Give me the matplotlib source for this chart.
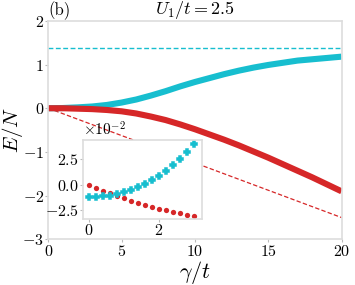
import matplotlib
matplotlib.use('Agg')
import matplotlib.pyplot as plt
from matplotlib.ticker import ScalarFormatter

plt.rcParams['font.family'] = 'serif'
plt.rcParams['font.serif'] = ['cmr10', 'DejaVu Serif']
plt.rcParams['mathtext.fontset'] = 'cm'
plt.rcParams['axes.formatter.use_mathtext'] = True

# main panel data
gamma = [0, 1, 2, 3, 4, 5, 6, 7, 8, 9, 10, 11, 12, 13, 14, 15, 16, 17, 18, 19, 20]
e_cyan = [0.0, 0.005, 0.02, 0.04, 0.075, 0.13, 0.2, 0.29, 0.39, 0.5, 0.6,
          0.69, 0.78, 0.86, 0.93, 0.99, 1.04, 1.09, 1.12, 1.15, 1.18]
e_red = [0.0, 0.0, -0.01, -0.02, -0.04, -0.07, -0.12, -0.19, -0.27, -0.37, -0.48,
         -0.6, -0.72, -0.85, -0.99, -1.13, -1.28, -1.43, -1.58, -1.74, -1.9]
dash_x = [0, 20]
dash_red = [0, -2.5]
dash_cyan = [1.375, 1.375]

# inset data (units of 1e-2)
ins_x = [0.0, 0.2, 0.4, 0.6, 0.8, 1.0, 1.2, 1.4, 1.6, 1.8, 2.0, 2.2, 2.4, 2.6, 2.8, 3.0]
ins_red = [0.0, -0.29, -0.59, -0.82, -1.05, -1.31, -1.54, -1.76, -1.96, -2.16,
           -2.35, -2.52, -2.68, -2.81, -2.97, -3.1]
ins_cyan = [-1.21, -1.21, -1.14, -1.05, -0.88, -0.72, -0.49, -0.23, 0.1, 0.46,
            0.92, 1.37, 1.93, 2.52, 3.24, 3.99]

cyan = '#17becf'
red = '#d62728'
spine_c = '#dddddd'

fig = plt.figure(figsize=(3.55, 2.85), dpi=100)
ax = fig.add_axes([0.136, 0.160, 0.826, 0.767])

ax.plot(dash_x, dash_cyan, '--', color=cyan, lw=1.0, dashes=(3.5, 1.8))
ax.plot(dash_x, dash_red, '--', color=red, lw=0.9, dashes=(3.5, 1.8))
ax.plot(gamma, e_cyan, '-', color=cyan, lw=4.4, solid_capstyle='butt', solid_joinstyle='round')
ax.plot(gamma, e_red, '-', color=red, lw=4.4, solid_capstyle='butt', solid_joinstyle='round')

ax.set_xlim(0, 20)
ax.set_ylim(-3, 2)
ax.set_xticks([0, 5, 10, 15, 20])
ax.set_yticks([-3, -2, -1, 0, 1, 2])
ax.set_xlabel(r'$\gamma/t$', fontsize=16, labelpad=0)
ax.set_ylabel(r'$E/N$', fontsize=15)
ax.yaxis.set_label_coords(-0.078, 0.5)
ax.set_title(r'$U_1/t = 2.5$', fontsize=13, pad=2)
ax.text(0.0, 1.005, '(b)', transform=ax.transAxes, fontsize=12, va='bottom', ha='left')
for s in ax.spines.values():
    s.set_color(spine_c)
    s.set_linewidth(1.2)
ax.tick_params(axis='both', labelsize=11.5, length=2, width=0.8, color='#bbbbbb', pad=1)

# inset
axin = fig.add_axes([0.234, 0.2305, 0.335, 0.277])
axin.plot(ins_x, [v * 1e-2 for v in ins_red], 'o', color=red, ms=3.8, mec='none')
axin.plot(ins_x, [v * 1e-2 for v in ins_cyan], 'P', color=cyan, ms=4.6, mec=cyan, mew=1.1)
axin.set_xlim(-0.17, 3.23)
axin.set_ylim(-0.0339, 0.0438)
axin.set_xticks([0, 2])
axin.set_yticks([-0.025, 0, 0.025])
fmt = ScalarFormatter(useMathText=True)
fmt.set_powerlimits((-1, 1))
axin.yaxis.set_major_formatter(fmt)
axin.yaxis.get_offset_text().set_fontsize(11)
for s in axin.spines.values():
    s.set_color(spine_c)
    s.set_linewidth(1.2)
axin.tick_params(axis='both', labelsize=11.5, length=2, width=0.8, color='#bbbbbb', pad=1)

fig.savefig('out.png', dpi=100)
